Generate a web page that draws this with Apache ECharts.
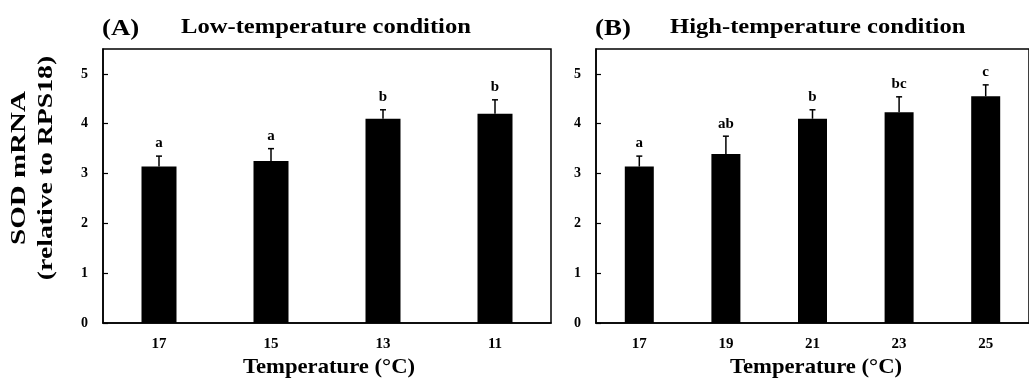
<!DOCTYPE html>
<html><head><meta charset="utf-8">
<script src="https://cdn.jsdelivr.net/npm/echarts@6/dist/echarts.min.js"></script>
<style>html,body{margin:0;padding:0;background:#fff}#c{width:1029px;height:379px}</style>
</head><body><div id="c"></div>
<script>
const catsA = ['17', '15', '13', '11'];
const valsA = [3.14, 3.25, 4.10, 4.20];
const errA = [0.21, 0.25, 0.18, 0.28];
const sigA = ['a', 'a', 'b', 'b'];

const catsB = ['17', '19', '21', '23', '25'];
const valsB = [3.14, 3.39, 4.10, 4.23, 4.55];
const errB = [0.21, 0.36, 0.18, 0.31, 0.23];
const sigB = ['a', 'ab', 'b', 'bc', 'c'];

const yTicks = [0, 1, 2, 3, 4, 5];

const FONT = '"Liberation Serif", "Times New Roman", serif';
const chart = echarts.init(document.getElementById('c'), null, {renderer: 'canvas'});

function xAxisCfg(idx, cats) {
  return {
    type: 'category', gridIndex: idx, data: cats,
    axisLine: {lineStyle: {color: '#000', width: 1.5}},
    axisTick: {inside: true, length: 5, lineStyle: {color: '#000', width: 1.2}},
    axisLabel: {fontFamily: FONT, fontWeight: 'bold', fontSize: 15, color: '#000', margin: 14}
  };
}
function yAxisCfg(idx) {
  return {
    type: 'value', gridIndex: idx, min: 0, max: 5.5, interval: 1,
    axisLine: {show: true, lineStyle: {color: '#000', width: 1.5}},
    axisTick: {show: true, inside: true, length: 5, lineStyle: {color: '#000', width: 1.2}},
    axisLabel: {fontFamily: FONT, fontWeight: 'bold', fontSize: 14, color: '#000', margin: 15, showMaxLabel: false,
      formatter: v => yTicks.indexOf(v) >= 0 ? String(v) : ''},
    splitLine: {show: false}
  };
}
function errSeries(idx, vals, errs, sigs) {
  return {
    type: 'custom', xAxisIndex: idx, yAxisIndex: idx, z: 5,
    data: vals.map((v, i) => [i, v, v + errs[i]]),
    renderItem: (params, api) => {
      const base = api.coord([api.value(0), api.value(1)]);
      const top = api.coord([api.value(0), api.value(2)]);
      const cw = 6;
      return {
        type: 'group', children: [
          {type: 'line', shape: {x1: base[0], y1: base[1], x2: top[0], y2: top[1]}, style: {stroke: '#000', lineWidth: 1.5}},
          {type: 'line', shape: {x1: top[0] - cw / 2, y1: top[1], x2: top[0] + cw / 2, y2: top[1]}, style: {stroke: '#000', lineWidth: 1.5}},
          {type: 'text', x: top[0], y: top[1] - 5, style: {text: sigs[params.dataIndex], fill: '#000', font: 'bold 15px ' + FONT, textAlign: 'center', textVerticalAlign: 'bottom'}}
        ]
      };
    }
  };
}
function txt(x, y, s, size, sx, align, rot) {
  return {type: 'text', x: x, y: y, scaleX: sx, rotation: rot || 0,
    style: {text: s, font: 'bold ' + size + 'px ' + FONT, fill: '#000', textAlign: align, textVerticalAlign: 'middle'}};
}

chart.setOption({
  animation: false,
  backgroundColor: '#fff',
  grid: [
    {left: 103, right: 478, top: 49, bottom: 56, show: true, borderColor: '#000', borderWidth: 1.5, backgroundColor: 'transparent'},
    {left: 596, right: -13, top: 49, bottom: 56, show: true, borderColor: '#000', borderWidth: 1.5, backgroundColor: 'transparent'}
  ],
  xAxis: [xAxisCfg(0, catsA), xAxisCfg(1, catsB)],
  yAxis: [yAxisCfg(0), yAxisCfg(1)],
  series: [
    {type: 'bar', xAxisIndex: 0, yAxisIndex: 0, data: valsA, barWidth: 35, itemStyle: {color: '#000'}},
    {type: 'bar', xAxisIndex: 1, yAxisIndex: 1, data: valsB, barWidth: 29, itemStyle: {color: '#000'}},
    errSeries(0, valsA, errA, sigA),
    errSeries(1, valsB, errB, sigB)
  ],
  graphic: [
    txt(102, 29, '(A)', 24, 1.12, 'left'),
    txt(181, 28, 'Low-temperature condition', 20, 1.23, 'left'),
    txt(595, 29, '(B)', 24, 1.12, 'left'),
    txt(670, 28, 'High-temperature condition', 20, 1.23, 'left'),
    txt(329, 368, 'Temperature (°C)', 21, 1.08, 'center'),
    txt(816, 368, 'Temperature (°C)', 21, 1.08, 'center'),
    txt(20, 168, 'SOD mRNA', 21, 1.38, 'center', Math.PI / 2),
    txt(47, 168, '(relative to RPS18)', 21, 1.32, 'center', Math.PI / 2)
  ]
});
</script></body></html>
